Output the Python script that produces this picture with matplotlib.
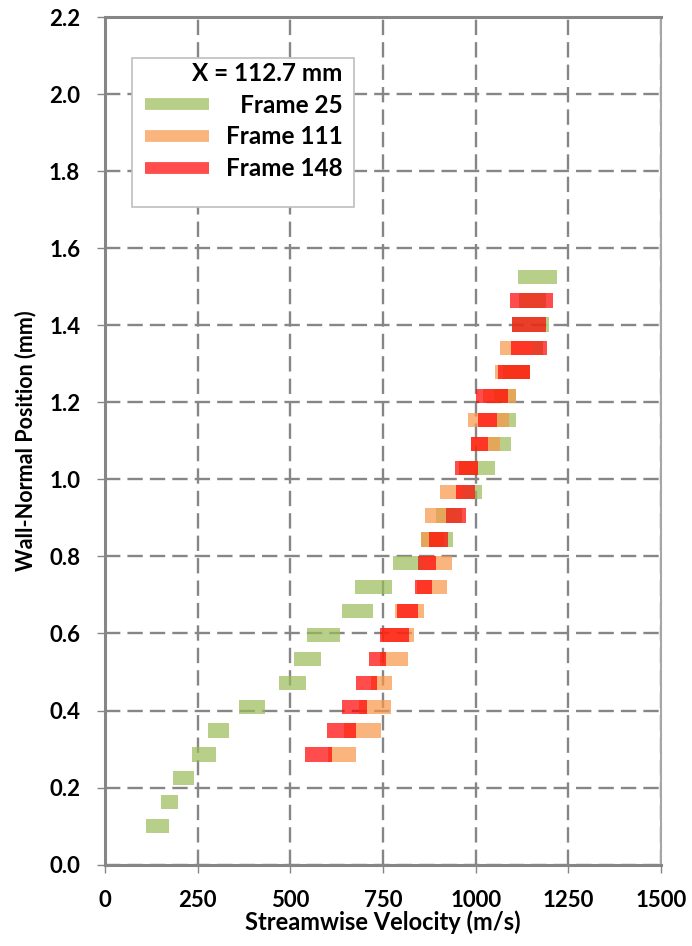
import numpy as np
import matplotlib.pyplot as plt
from matplotlib.lines import Line2D
from matplotlib.patches import Rectangle

plt.rcParams['font.family'] = ['Lato', 'DejaVu Sans']
plt.rcParams['font.weight'] = 'bold'

# wall-normal positions of the measurement rows (mm)
rows = np.round(0.1 + 0.062 * np.arange(24), 3)

# velocity spans (m/s) for each row, [start, end]; None = no bar
frame25 = [(110, 172), (151, 197), (183, 241), (235, 299), (278, 334),
           (361, 432), (468, 543), (510, 583), (544, 633), (640, 722),
           (675, 774), (777, 859), (852, 940), (892, 962), (962, 1018),
           (956, 1052), (1033, 1096), (1058, 1110), (1050, 1110), (1075, 1146),
           (1151, 1181), (1099, 1198), (1118, 1189), (1114, 1220)]
frame111 = [None, None, None, (602, 678), (645, 744),
            (684, 771), (717, 775), (742, 817), (747, 833), (783, 861),
            (843, 924), (859, 935), (852, 915), (862, 919), (903, 962),
            (956, 1006), (988, 1065), (980, 1090), (1020, 1110), (1051, 1146),
            (1065, 1151), None, None, None]
frame148 = [None, None, None, (539, 611), (599, 676),
            (638, 708), (678, 733), (712, 757), (742, 819), (789, 844),
            (835, 882), (844, 893), (874, 925), (919, 975), (946, 998),
            (943, 1006), (988, 1033), (1007, 1058), (1000, 1088), (1060, 1146),
            (1096, 1193), (1099, 1189), (1092, 1208), None]

series = [("\u2007Frame 25", frame25, "#9bbb59"),
          ("Frame 111", frame111, "#f79646"),
          ("Frame 148", frame148, "#ff0000")]

xticks = [0, 250, 500, 750, 1000, 1250, 1500]
yticks = [0.0, 0.2, 0.4, 0.6, 0.8, 1.0, 1.2, 1.4, 1.6, 1.8, 2.0, 2.2]

fig, ax = plt.subplots(figsize=(6.92, 9.46), dpi=100)
fig.subplots_adjust(left=0.152, right=0.955, top=0.982, bottom=0.086)

for label, spans, color in series:
    ys = [y for y, s in zip(rows, spans) if s is not None]
    lefts = [s[0] for s in spans if s is not None]
    widths = [s[1] - s[0] for s in spans if s is not None]
    ax.barh(ys, widths, left=lefts, height=0.037, color=color, alpha=0.7,
            linewidth=0, zorder=3)

ax.set_xlim(0, 1500)
ax.set_ylim(0, 2.2)
ax.set_xticks(xticks)
ax.set_yticks(yticks)
ax.set_xticklabels([str(v) for v in xticks], fontweight='bold')
ax.set_yticklabels([f"{v:.1f}" for v in yticks], fontweight='bold')
ax.tick_params(labelsize=16, colors='#868686', labelcolor='black',
               length=6, width=1, direction='out')
ax.tick_params(axis='x', pad=12)
ax.tick_params(axis='y', pad=12)
ax.grid(True, color='#868686', linewidth=1.7, linestyle=(0, (6.5, 3)), zorder=1)
ax.set_axisbelow(True)
for side in ['left', 'bottom', 'top']:
    ax.spines[side].set_color('#868686')
    ax.spines[side].set_linewidth(2.2)
ax.spines['right'].set_color('#a6a6a6')
ax.spines['right'].set_linewidth(1.5)

ax.set_xlabel("Streamwise Velocity (m/s)", fontsize=17, fontweight='bold', labelpad=0)
ax.set_ylabel("Wall-Normal Position (mm)", fontsize=15.5, fontweight='bold', labelpad=9)

handles = [Line2D([], [], color=c, alpha=0.7, lw=8.5, solid_capstyle='butt')
           for _, _, c in series]
labels = [s[0] for s in series]
leg = ax.legend(handles, labels, title="X = 112.7 mm", loc='upper left',
                bbox_to_anchor=(0.052, 0.960), borderaxespad=0,
                prop={'size': 17.5, 'weight': 'bold'},
                title_fontproperties={'size': 17.5, 'weight': 'bold'},
                alignment='right', fancybox=False, framealpha=1,
                handlelength=2.65, handletextpad=0.68,
                labelspacing=0.36, borderpad=0.45)
leg.get_frame().set_visible(False)
leg.set_zorder(5)

# legend box: entries sit close to the top, extra room below the last one
fig.canvas.draw()
bb = leg.get_window_extent(fig.canvas.get_renderer())
inv = ax.transAxes.inverted()
(x0, y0), (x1, y1) = inv.transform([(bb.x0 - 2, bb.y0 - 16), (bb.x1, bb.y1 - 7)])
ax.add_patch(Rectangle((x0, y0), x1 - x0, y1 - y0, transform=ax.transAxes,
                       facecolor='white', edgecolor='#bfbfbf', linewidth=1.2,
                       zorder=4))

fig.savefig("out.png", dpi=100)
